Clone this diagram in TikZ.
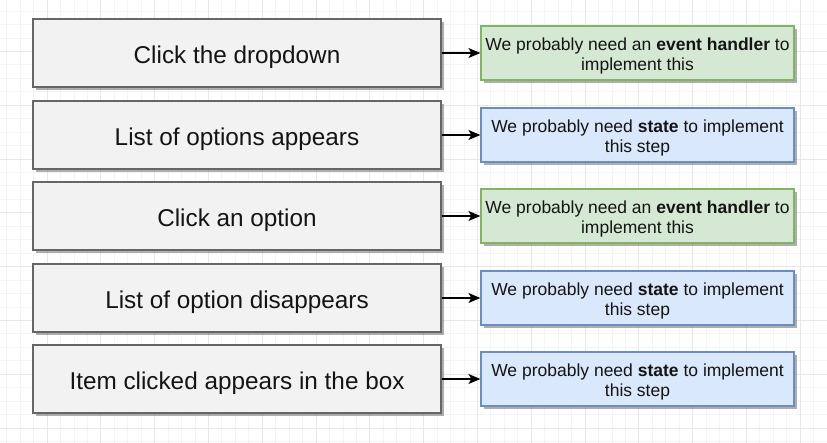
\documentclass[tikz,border=0pt]{standalone}
\usepackage{fontspec}
\setmainfont{Liberation Sans}
\usetikzlibrary{arrows.meta,shadows}
\definecolor{gridminor}{HTML}{F4F4F4}
\definecolor{gridmajor}{HTML}{E8E8E8}
\definecolor{stepfill}{HTML}{F2F2F2}
\definecolor{stepline}{HTML}{666666}
\definecolor{greenfill}{HTML}{D5E8D4}
\definecolor{greenline}{HTML}{82B366}
\definecolor{bluefill}{HTML}{DAE8FC}
\definecolor{blueline}{HTML}{6C8EBF}
\definecolor{textc}{HTML}{141414}
\newcommand{\notestrut}{\rule{0pt}{19.5pt}}
\tikzset{
  boxshadow/.style={drop shadow={shadow xshift=3pt, shadow yshift=-3pt, fill=black!70, opacity=0.45}},
  stepbox/.style={draw=stepline, fill=stepfill, line width=1.2pt, minimum width=408pt, minimum height=68pt,
    inner sep=0pt, text=textc, font=\fontsize{24.3}{28}\selectfont, text height=20.6pt, text depth=0pt, boxshadow},
  notebox/.style={line width=1.2pt, minimum width=313pt, minimum height=54pt, inner sep=0pt, align=center,
    text=textc, font=\fontsize{17.5}{20}\selectfont, boxshadow},
  greenbox/.style={notebox, draw=greenline, fill=greenfill},
  bluebox/.style={notebox, draw=blueline, fill=bluefill},
  link/.style={draw=black, line width=1.3pt, -{Stealth[length=12pt,width=10pt,inset=3pt]}}
}
\begin{document}
\begin{tikzpicture}[x=1pt,y=-1pt]
\useasboundingbox (0,0) rectangle (827,443);
\fill[white] (0,0) rectangle (827,443);
% grid
\foreach \i in {0,...,61} {
  \pgfmathsetmacro{\gx}{6.65+13.45*\i}
  \draw[gridminor, line width=0.8pt] (\gx,0) -- (\gx,443);
}
\foreach \i in {0,...,32} {
  \pgfmathsetmacro{\gy}{11.05+13.45*\i}
  \draw[gridminor, line width=0.8pt] (0,\gy) -- (827,\gy);
}
\foreach \i in {0,...,15} {
  \pgfmathsetmacro{\gx}{47+53.8*\i}
  \draw[gridmajor, line width=0.9pt] (\gx,0) -- (\gx,443);
}
\foreach \i in {0,...,7} {
  \pgfmathsetmacro{\gy}{51.4+53.8*\i}
  \draw[gridmajor, line width=0.9pt] (0,\gy) -- (827,\gy);
}
% steps
\node[stepbox] (s1) at (237,53) {Click the dropdown};
\node[stepbox] (s2) at (237,135) {List of options appears};
\node[stepbox] (s3) at (237,216) {Click an option};
\node[stepbox] (s4) at (237,298) {List of option disappears};
\node[stepbox] (s5) at (237,379) {Item clicked appears in the box};
% notes
\node[greenbox] (n1) at (637.5,53) {\notestrut We probably need an \textbf{event handler} to\\implement this};
\node[bluebox] (n2) at (637.5,135) {\notestrut We probably need \textbf{state} to implement\\this step};
\node[greenbox] (n3) at (637.5,216) {\notestrut We probably need an \textbf{event handler} to\\implement this};
\node[bluebox] (n4) at (637.5,298) {\notestrut We probably need \textbf{state} to implement\\this step};
\node[bluebox] (n5) at (637.5,379) {\notestrut We probably need \textbf{state} to implement\\this step};
% links
\foreach \k in {1,...,5} {
  \draw[link] (s\k.east) -- (n\k.west);
}
\end{tikzpicture}
\end{document}
